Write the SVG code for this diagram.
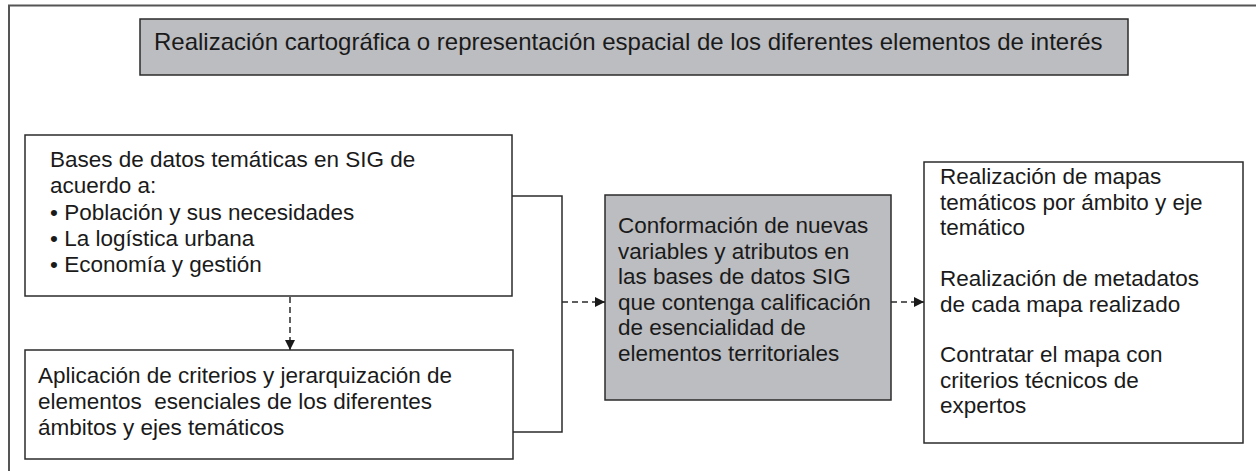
<svg xmlns="http://www.w3.org/2000/svg" width="1256" height="471" viewBox="0 0 1256 471">
<defs>
<style>
.box{fill:#ffffff;stroke:#2b2b2b;stroke-width:1.5}
.gray{fill:#bcbdc0;stroke:#2b2b2b;stroke-width:1.5}
.frame{fill:none;stroke:#555555;stroke-width:2}
.t{font-family:"Liberation Sans",Arial,Helvetica,sans-serif;font-size:22.5px;fill:#1a1a1a}
.tt{font-family:"Liberation Sans",Arial,Helvetica,sans-serif;font-size:24px;fill:#1a1a1a}
.line{fill:none;stroke:#2b2b2b;stroke-width:1.5}
.dash{fill:none;stroke:#2b2b2b;stroke-width:1.5;stroke-dasharray:6 4}
</style>
<marker id="arr" markerWidth="10" markerHeight="10" refX="10" refY="5" orient="auto" markerUnits="userSpaceOnUse">
<path d="M0,0 L10,5 L0,10 Z" fill="#1a1a1a"/>
</marker>
</defs>
<rect width="1256" height="471" fill="#ffffff"/>
<path class="frame" d="M9,471 L9,5.5 L1256,5.5"/>

<g id="titulo">
<rect class="gray" x="140" y="19" width="988" height="56"/>
<text class="tt" x="154" y="50">Realización cartográfica o representación espacial de los diferentes elementos de interés</text>
</g>

<g id="bases">
<rect class="box" x="25" y="135" width="487" height="161"/>
<text class="t" x="50" y="167">Bases de datos temáticas en SIG de</text>
<text class="t" x="50" y="193">acuerdo a:</text>
<text class="t" x="50" y="220">• Población y sus necesidades</text>
<text class="t" x="50" y="246">• La logística urbana</text>
<text class="t" x="50" y="272">• Economía y gestión</text>
</g>

<g id="aplicacion">
<rect class="box" x="25" y="350" width="488" height="109"/>
<text class="t" x="38" y="383">Aplicación de criterios y jerarquización de</text>
<text class="t" x="38" y="409" xml:space="preserve" style="white-space:pre">elementos  esenciales de los diferentes</text>
<text class="t" x="38" y="435">ámbitos y ejes temáticos</text>
</g>

<g id="conformacion">
<rect class="gray" x="605" y="195" width="286" height="205"/>
<text class="t" x="618" y="233">Conformación de nuevas</text>
<text class="t" x="618" y="258.5">variables y atributos en</text>
<text class="t" x="618" y="284">las bases de datos SIG</text>
<text class="t" x="618" y="309.5">que contenga calificación</text>
<text class="t" x="618" y="335">de esencialidad de</text>
<text class="t" x="618" y="360.5">elementos territoriales</text>
</g>

<g id="resultados">
<rect class="box" x="924" y="162" width="319" height="281"/>
<text class="t" x="940" y="184">Realización de mapas</text>
<text class="t" x="940" y="209.5">temáticos por ámbito y eje</text>
<text class="t" x="940" y="235">temático</text>
<text class="t" x="940" y="286">Realización de metadatos</text>
<text class="t" x="940" y="311.5">de cada mapa realizado</text>
<text class="t" x="940" y="362">Contratar el mapa con</text>
<text class="t" x="940" y="387.5">criterios técnicos de</text>
<text class="t" x="940" y="413">expertos</text>
</g>

<g id="conectores">
<path class="line" d="M512,196 L562,196 L562,432 L513,432"/>
<path class="dash" d="M290,297 L290,350" marker-end="url(#arr)"/>
<path class="dash" d="M562,302 L605,302" marker-end="url(#arr)"/>
<path class="dash" d="M891,302 L924,302" marker-end="url(#arr)"/>
</g>
</svg>
